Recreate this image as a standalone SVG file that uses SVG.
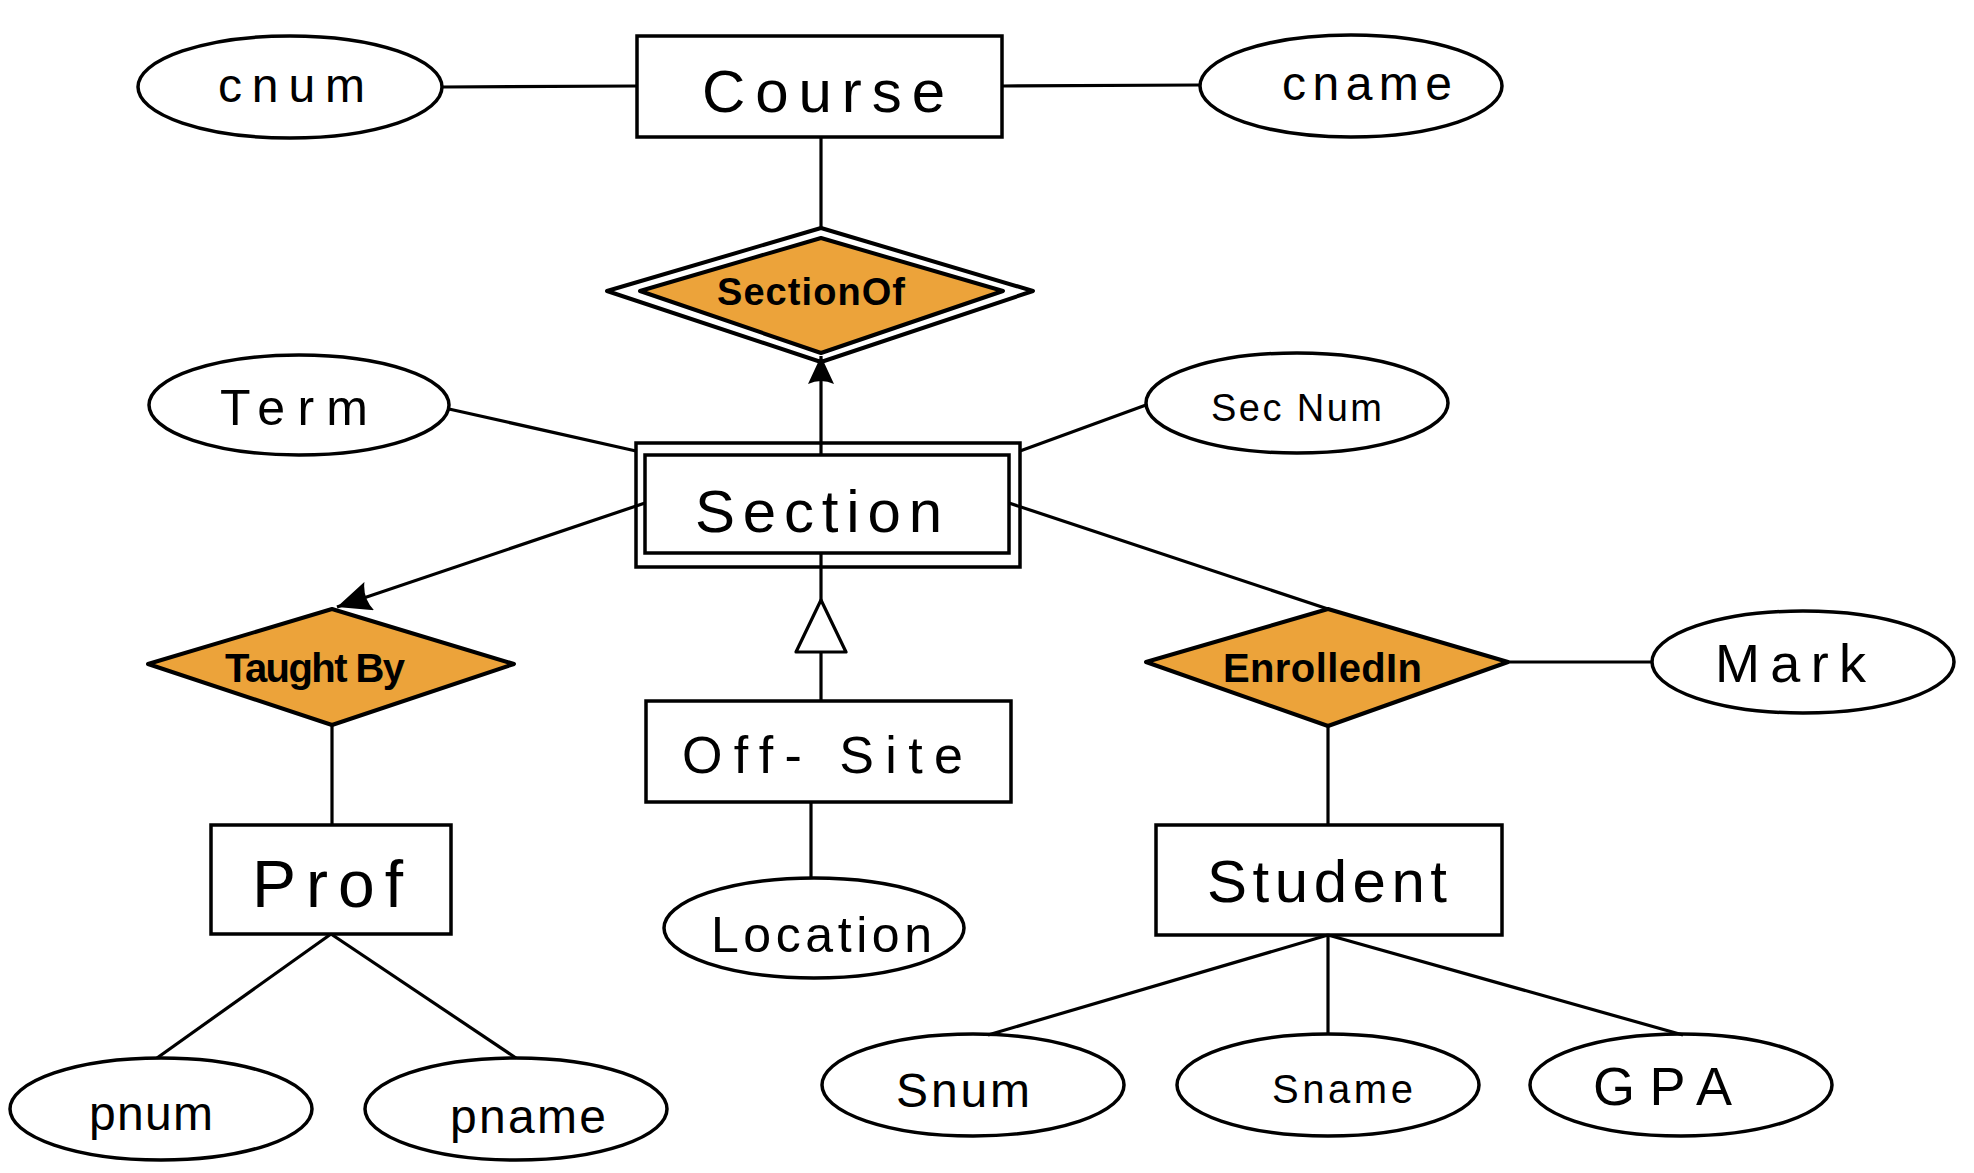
<svg xmlns="http://www.w3.org/2000/svg" width="1974" height="1173" viewBox="0 0 1974 1173">
  <style>
    .ent { fill: #ffffff; stroke: #000000; stroke-width: 3.5; }
    .attr { fill: #ffffff; stroke: #000000; stroke-width: 3.5; }
    .rel { fill: #eca33a; stroke: #000000; stroke-width: 4; stroke-linejoin: round; }
    .relo { fill: #ffffff; stroke: #000000; stroke-width: 4; stroke-linejoin: round; }
    .wire { fill: none; stroke: #000000; stroke-width: 3.2; }
    text { font-family: "Liberation Sans", Arial, sans-serif; fill: #000000; }
    .big { font-size: 60px; }
    .mid { font-size: 50px; }
    .sm { font-size: 48px; }
    .rl { font-size: 40px; font-weight: bold; }
  </style>
  <defs>
    <marker id="arrowFilled" markerUnits="userSpaceOnUse" viewBox="0 0 28 26" refX="28" refY="13" markerWidth="28" markerHeight="26" orient="auto">
      <path d="M0,0 L28,13 L0,26 Q6,13 0,0 Z" fill="#000000"/>
    </marker>
    <marker id="arrowFilledLarge" markerUnits="userSpaceOnUse" viewBox="0 0 34 30" refX="34" refY="15" markerWidth="34" markerHeight="30" orient="auto">
      <path d="M0,0 L34,15 L0,30 Q7,15 0,0 Z" fill="#000000"/>
    </marker>
    <marker id="isaTriangle" markerUnits="userSpaceOnUse" viewBox="-2 -2 56 54" refX="52" refY="25" markerWidth="56" markerHeight="54" orient="auto">
      <path d="M0,0 L52,25 L0,50 Z" fill="#ffffff" stroke="#000000" stroke-width="3.2" stroke-linejoin="round"/>
    </marker>
  </defs>

  <!-- entities -->
  <g id="course">
    <rect class="ent" x="637" y="36" width="365" height="101"/>
    <text class="big" x="702" y="112" textLength="243" lengthAdjust="spacing">Course</text>
  </g>
  <g id="section">
    <rect class="ent" x="636" y="443" width="384" height="124"/>
    <rect class="ent" x="645" y="455" width="364" height="98"/>
    <text class="big" x="695" y="532" textLength="247" lengthAdjust="spacing">Section</text>
  </g>
  <g id="offsite">
    <rect class="ent" x="646" y="701" width="365" height="101"/>
    <text style="font-size:52px" x="682" y="773" textLength="281" lengthAdjust="spacing">Off- Site</text>
  </g>
  <g id="prof">
    <rect class="ent" x="211" y="825" width="240" height="109"/>
    <text style="font-size:66px" x="252" y="907" textLength="151" lengthAdjust="spacing">Prof</text>
  </g>
  <g id="student">
    <rect class="ent" x="1156" y="825" width="346" height="110"/>
    <text class="big" x="1207" y="902" textLength="240" lengthAdjust="spacing">Student</text>
  </g>

  <!-- relationships -->
  <g id="sectionof">
    <polygon class="relo" points="821,228 1033,291 821,362 607,291"/>
    <polygon class="rel" points="821,238 1003,291 821,353 640,291"/>
    <text style="font-size:38px;font-weight:bold" x="717" y="305" textLength="188" lengthAdjust="spacing">SectionOf</text>
  </g>
  <g id="taughtby">
    <polygon class="rel" points="332,609 514,664 332,725 148,664"/>
    <text class="rl" x="225" y="682" textLength="180" lengthAdjust="spacing">Taught By</text>
  </g>
  <g id="enrolledin">
    <polygon class="rel" points="1328,609 1508,662 1328,726 1146,662"/>
    <text class="rl" x="1223" y="682" textLength="199" lengthAdjust="spacing">EnrolledIn</text>
  </g>

  <!-- attributes -->
  <g id="cnum">
    <ellipse class="attr" cx="290" cy="87" rx="152" ry="51"/>
    <text class="sm" x="218" y="102" textLength="147" lengthAdjust="spacing">cnum</text>
  </g>
  <g id="cname">
    <ellipse class="attr" cx="1351" cy="86" rx="151" ry="51"/>
    <text class="sm" x="1282" y="100" textLength="170" lengthAdjust="spacing">cname</text>
  </g>
  <g id="term">
    <ellipse class="attr" cx="299" cy="405" rx="150" ry="50"/>
    <text class="mid" x="220" y="425" textLength="148" lengthAdjust="spacing">Term</text>
  </g>
  <g id="secnum">
    <ellipse class="attr" cx="1297" cy="403" rx="151" ry="50"/>
    <text style="font-size:38px" x="1211" y="421" textLength="171" lengthAdjust="spacing">Sec Num</text>
  </g>
  <g id="mark">
    <ellipse class="attr" cx="1803" cy="662" rx="151" ry="51"/>
    <text style="font-size:54px" x="1715" y="682" textLength="151" lengthAdjust="spacing">Mark</text>
  </g>
  <g id="location">
    <ellipse class="attr" cx="814" cy="928" rx="150" ry="50"/>
    <text style="font-size:50px" x="711" y="952" textLength="221" lengthAdjust="spacing">Location</text>
  </g>
  <g id="pnum">
    <ellipse class="attr" cx="161" cy="1109" rx="151" ry="51"/>
    <text class="sm" x="89" y="1130" textLength="124" lengthAdjust="spacing">pnum</text>
  </g>
  <g id="pname">
    <ellipse class="attr" cx="516" cy="1109" rx="151" ry="51"/>
    <text class="sm" x="450" y="1133" textLength="156" lengthAdjust="spacing">pname</text>
  </g>
  <g id="snum">
    <ellipse class="attr" cx="973" cy="1085" rx="151" ry="51"/>
    <text class="sm" x="896" y="1107" textLength="134" lengthAdjust="spacing">Snum</text>
  </g>
  <g id="sname">
    <ellipse class="attr" cx="1328" cy="1085" rx="151" ry="51"/>
    <text style="font-size:40px" x="1272" y="1103" textLength="141" lengthAdjust="spacing">Sname</text>
  </g>
  <g id="gpa">
    <ellipse class="attr" cx="1681" cy="1085" rx="151" ry="51"/>
    <text style="font-size:54px" x="1593" y="1105" textLength="139" lengthAdjust="spacing">GPA</text>
  </g>

  <!-- connectors -->
  <g id="connectors">
    <line class="wire" x1="442" y1="87" x2="637" y2="86"/>
    <line class="wire" x1="1002" y1="86" x2="1200" y2="85"/>
    <line class="wire" x1="821" y1="137" x2="821" y2="228"/>
    <path class="wire" d="M821,455 V356" marker-end="url(#arrowFilled)"/>
    <line class="wire" x1="449" y1="409" x2="636" y2="451"/>
    <line class="wire" x1="1146" y1="405" x2="1020" y2="451"/>
    <path class="wire" d="M645,503 L337,607" marker-end="url(#arrowFilledLarge)"/>
    <line class="wire" x1="332" y1="725" x2="332" y2="825"/>
    <line class="wire" x1="331" y1="934" x2="157" y2="1058"/>
    <line class="wire" x1="331" y1="934" x2="516" y2="1058"/>
    <line class="wire" x1="821" y1="553" x2="821" y2="600"/>
    <path class="wire" d="M821,701 V600" marker-end="url(#isaTriangle)"/>
    <line class="wire" x1="811" y1="802" x2="811" y2="878"/>
    <line class="wire" x1="1009" y1="503" x2="1328" y2="609"/>
    <line class="wire" x1="1508" y1="662" x2="1652" y2="662"/>
    <line class="wire" x1="1328" y1="726" x2="1328" y2="825"/>
    <line class="wire" x1="1328" y1="935" x2="988" y2="1035"/>
    <line class="wire" x1="1328" y1="935" x2="1328" y2="1034"/>
    <line class="wire" x1="1328" y1="935" x2="1683" y2="1035"/>
  </g>
</svg>
